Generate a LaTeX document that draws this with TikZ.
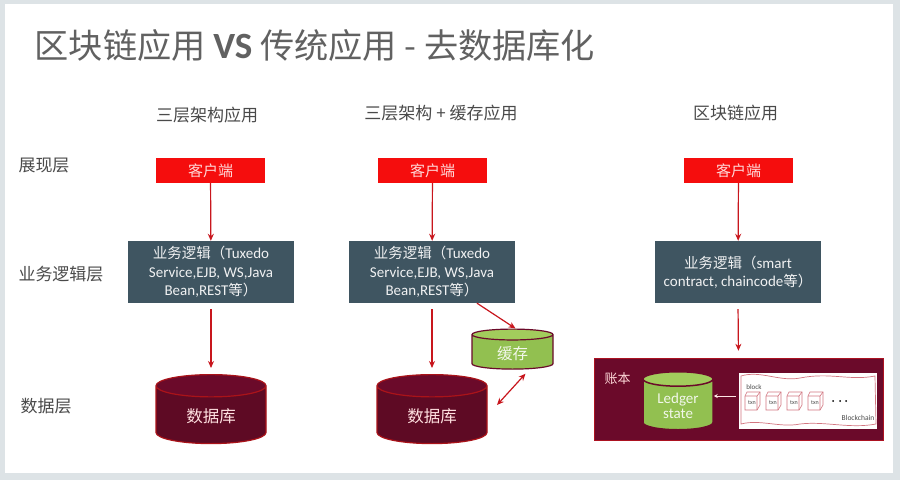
\documentclass[tikz,border=0pt]{standalone}
\usepackage{fontspec}
\setmainfont{Carlito}
\newfontfamily\cjk{Noto Sans CJK SC}
\newfontfamily\lat{Carlito}
\usetikzlibrary{shapes.geometric,arrows.meta,calc}
\definecolor{frameg}{HTML}{DDE3E6}
\definecolor{redbox}{HTML}{F50D0D}
\definecolor{slate}{HTML}{3F5561}
\definecolor{wine}{HTML}{6B0A2A}
\definecolor{winedk}{HTML}{5E0A24}
\definecolor{green1}{HTML}{92C050}
\definecolor{green2}{HTML}{A2CC5C}
\definecolor{arrowred}{HTML}{C8161D}
\definecolor{txt}{HTML}{4A4A4A}
\newcommand{\dtext}[2]{\smash{\raisebox{#1}{#2}}}
\tikzset{
  clientbox/.style={fill=redbox,minimum width=109pt,minimum height=25pt,inner sep=0pt,text=white!85!red,font=\cjk\fontsize{15}{17}\selectfont},
  logicbox/.style={fill=slate,minimum width=166pt,minimum height=62pt,inner sep=0pt,align=center,text=white!92!slate,font=\cjk\fontsize{14.5}{18.5}\selectfont},
  cyl/.style={cylinder,shape border rotate=90,aspect=#1,cylinder uses custom fill,inner sep=0pt,line width=1.2pt,anchor=north},
  dbcyl/.style={cyl=0.45,draw=arrowred!85!black,cylinder body fill=winedk,cylinder end fill=wine,minimum width=110pt,minimum height=69pt,text=white!88!red,font=\cjk\fontsize{16.5}{18}\selectfont},
  greencyl/.style={cyl=#1,draw=wine,cylinder body fill=green1,cylinder end fill=green2,text=white!88!green1},
  lane/.style={text=txt,font=\cjk\fontsize{17}{20}\selectfont},
  conn/.style={arrowred,line width=1.2pt,-{Stealth[length=7pt,width=6pt]}},
  txn/.style={inner sep=0pt,font=\fontsize{6}{7}\selectfont,text=txt},
  wave/.style={red!45!wine!55,line width=.7pt},
  blockline/.style={red!45!wine!55,line width=.6pt},
}
\begin{document}
\begin{tikzpicture}[x=1pt,y=-1pt]
\useasboundingbox (0,0) rectangle (900,480);
\fill[frameg] (0,0) rectangle (900,480);
\fill[white] (5,4) rectangle (893,473);
% title
\node[anchor=west,inner sep=0pt,text=black!62,font=\cjk\fontsize{34.2}{38}\selectfont] (title) at (34.5,45) {区块链应用 {\lat\fontsize{37}{38}\selectfont\bfseries VS} 传统应用 - 去数据库化};
% column headings
\node[lane] (h1) at (207,115) {三层架构应用};
\node[lane] (h2) at (441,113) {三层架构 + 缓存应用};
\node[lane] (h3) at (735.5,113) {区块链应用};
\node[lane] (l1) at (44,165.5) {展现层};
\node[lane] (l2) at (61,274) {业务逻辑层};
\node[lane] (l3) at (46,406) {数据层};
% clients
\node[clientbox] (c1) at (210.5,170.5) {客户端};
\node[clientbox] (c2) at (432.5,170.5) {客户端};
\node[clientbox] (c3) at (738.5,170.5) {客户端};
% logic
\node[logicbox] (b1) at (211,272) {业务逻辑（{\lat\fontsize{15}{18.5}\selectfont Tuxedo}\\{\lat\fontsize{15}{18.5}\selectfont Service,EJB, WS,Java}\\{\lat\fontsize{15}{18.5}\selectfont Bean,REST}等）};
\node[logicbox] (b2) at (432,272) {业务逻辑（{\lat\fontsize{15}{18.5}\selectfont Tuxedo}\\{\lat\fontsize{15}{18.5}\selectfont Service,EJB, WS,Java}\\{\lat\fontsize{15}{18.5}\selectfont Bean,REST}等）};
\node[logicbox] (b3) at (738,272) {业务逻辑（{\lat\fontsize{15}{18.5}\selectfont smart}\\{\lat\fontsize{15}{18.5}\selectfont contract, chaincode}等）};
% data
\node[dbcyl] (d1) at (211,374) {\dtext{-7.5pt}{数据库}};
\node[dbcyl] (d2) at (432,374) {\dtext{-7.5pt}{数据库}};
\node[greencyl=0.35,minimum width=81pt,minimum height=40pt,font=\cjk\fontsize{15.5}{18}\selectfont] (cache) at (512.5,328.5) {\dtext{-7.5pt}{缓存}};
% ledger panel
\node[fill=wine,draw=arrowred!70!wine,line width=.5pt,minimum width=289pt,minimum height=82pt,inner sep=0pt] (panel) at (738.5,399) {};
\node[inner sep=0pt,text=white!85!red,font=\cjk\fontsize{13}{15}\selectfont] (acct) at (617.5,379) {账本};
\node[greencyl=0.35,line width=1.5pt,minimum width=70pt,minimum height=58pt,font=\fontsize{15}{17.5}\selectfont] (ledger) at (678,371) {\dtext{-13.5pt}{\shortstack{Ledger\\state}}};
\node[fill=white,minimum width=138pt,minimum height=56pt,inner sep=0pt] (chain) at (808,401) {};
\draw[wave] (741,376) .. controls (760,370) and (780,382) .. (800,378) .. controls (830,372) and (850,381) .. (875,376) -- (876,424) .. controls (850,429) and (825,421) .. (800,424) .. controls (780,428) and (760,419) .. (741,424) -- cycle;
\foreach \n/\x in {t1/750,t2/771,t3/792,t4/813}{
  \draw[blockline,fill=white] (\x-5,396) -- (\x-3,392) -- (\x+10,392) -- (\x+10,405) -- (\x+7,410) -- (\x-5,410) -- cycle;
  \draw[blockline] (\x-5,396) -- (\x+7,396) -- (\x+10,392) (\x+7,396) -- (\x+7,410);
  \node[txn] (\n) at (\x+2,403) {txn};
}
\node[txn,font=\fontsize{7}{8}\selectfont] (blk) at (754,387) {block};
\node[txn,font=\fontsize{7.5}{8}\selectfont] (bc) at (858,418) {Blockchain};
\foreach \n/\x in {e1/833,e2/840,e3/846}{\fill[black] (\x,401) circle (1pt) coordinate (\n);}
% connectors
\draw[conn] (c1) -- (b1);
\draw[conn] (c2) -- (b2);
\draw[conn] (c3) -- (b3);
\draw[conn,shorten <=6pt,shorten >=6pt] (b1.south) -- (d1.north);
\draw[conn,shorten <=6pt,shorten >=6pt] (b2.south) -- (d2.north);
\draw[conn,shorten <=6pt,shorten >=7pt] (b3.south) -- (panel.north);
\draw[conn] ($(b2.south)+(45,0)$) -- ($(cache.north)+(3,0)$);
\coordinate (dblA) at ($(cache.south)+(13,4)$);
\coordinate (dblB) at ($(d2.north)+(65,31)$);
\draw[conn,{Stealth[length=7pt,width=6pt]}-{Stealth[length=7pt,width=6pt]}] (dblA) -- (dblB);
\draw[white!90!red,line width=1pt,-{Stealth[length=4pt,width=4pt]}] (chain.west) ++(-3,-5) coordinate (lgA) -- (ledger.east |- lgA);
\end{tikzpicture}
\end{document}
